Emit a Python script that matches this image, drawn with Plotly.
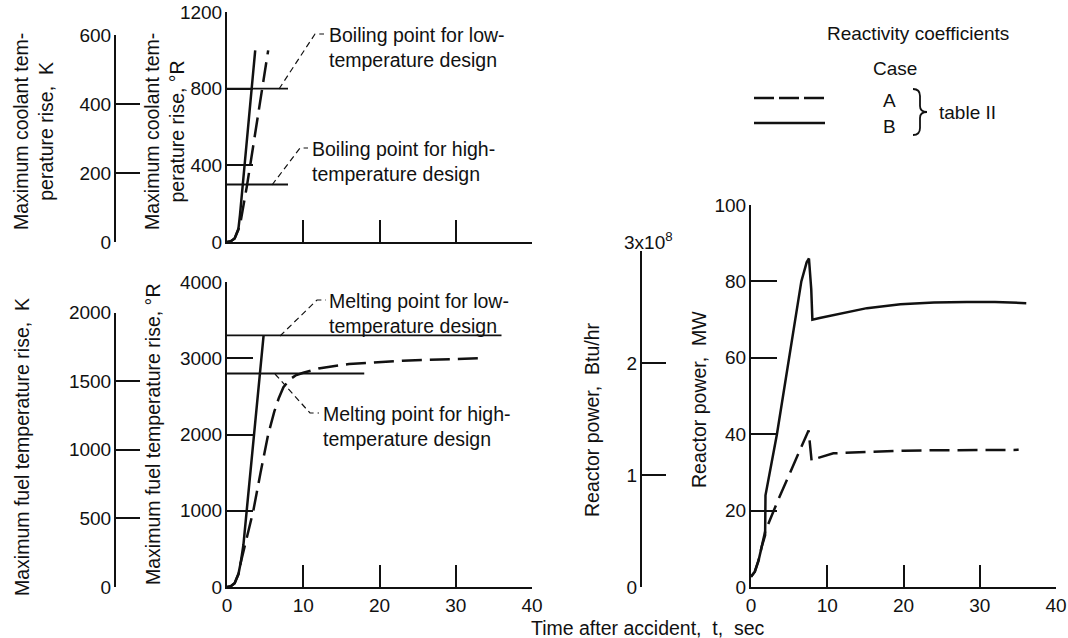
import plotly.graph_objects as go

W, H = 1068, 638

# ---------------- data ----------------
coolant_time_B = [0, 0.5, 1.0, 1.5, 1.7, 3.7]
coolant_rise_B = [0, 4, 18, 70, 140, 1000]
coolant_time_A = [0, 0.5, 1.0, 1.5, 1.8, 2.2, 2.6, 3.0, 4.6, 5.4]
coolant_rise_A = [0, 4, 18, 65, 110, 190, 290, 390, 800, 1000]

boiling_labels = ["Boiling point for low-<br>temperature design",
                  "Boiling point for high-<br>temperature design"]
boiling_points_R = [800, 300]
boiling_line_end = [8, 8]

fuel_time_B = [0, 0.5, 1.0, 1.5, 1.8, 2.15, 4.8]
fuel_rise_B = [0, 10, 50, 170, 320, 550, 3300]
fuel_time_A = [0, 0.5, 1.0, 1.5, 1.8, 2.4, 3.45, 4.4, 5.4, 6.2, 6.8, 7.4, 8.2, 9.0, 10, 12, 16, 23, 33]
fuel_rise_A = [0, 10, 50, 170, 320, 560, 1000, 1500, 2000, 2300, 2480, 2620, 2720, 2775, 2810, 2865, 2925, 2968, 3000]

melting_labels = ["Melting point for low-<br>temperature design",
                  "Melting point for high-<br>temperature design"]
melting_points_R = [3300, 2800]
melting_line_end = [36, 18]

power_time_B = [0, 0.5, 1.0, 1.4, 1.85, 1.9, 3.4, 4.9, 6.6, 7.3, 7.6, 7.9, 8.05, 9, 10.8, 15.2, 19.6, 24, 28.3, 32, 36.1]
power_B = [2.7, 4.0, 7.0, 10.5, 13.5, 24, 40, 59, 80, 85, 86, 78, 70, 70.4, 71.2, 73, 74, 74.5, 74.6, 74.6, 74.3]
power_time_A = [0, 0.5, 1.0, 1.4, 1.85, 3.5, 5.5, 7.3, 7.55, 7.95, 8.3, 10.8, 15.2, 20, 24, 30, 35.1]
power_A = [2.7, 4.0, 7.0, 10.5, 14.5, 22.5, 31.5, 39.5, 41, 33, 33.5, 35, 35.4, 35.7, 35.8, 35.9, 35.9]

time_ticks = [0, 10, 20, 30, 40]
coolant_R_ticks = [0, 400, 800, 1200]
coolant_K_ticks = [0, 200, 400, 600]
fuel_R_ticks = [0, 1000, 2000, 3000, 4000]
fuel_K_ticks = [0, 500, 1000, 1500, 2000]
power_MW_ticks = [0, 20, 40, 60, 80, 100]
power_btu_ticks = [0, 1, 2, 3]
power_btu_text = ["0", "1", "2", " "]

R_PER_K = 1.8
BTUHR_PER_MW = 3.412e6

# ---------------- helpers ----------------
def px(x):
    return x / W

def py(y):
    return 1 - y / H

TXT = "Liberation Sans, Arial, sans-serif"
NUM = "Liberation Sans Narrow, Arial Narrow, Liberation Sans, Arial, sans-serif"
BLACK = "#111"

fig = go.Figure()

SOLID = dict(color=BLACK, width=2.5)
DASH = dict(color=BLACK, width=2.5, dash="20px,8px")

# coolant panel
fig.add_trace(go.Scatter(x=coolant_time_B, y=coolant_rise_B, mode="lines", line=SOLID, xaxis="x", yaxis="y"))
fig.add_trace(go.Scatter(x=coolant_time_A, y=coolant_rise_A, mode="lines", line=DASH, xaxis="x", yaxis="y"))
for v, e in zip(boiling_points_R, boiling_line_end):
    fig.add_trace(go.Scatter(x=[0, e], y=[v, v], mode="lines", line=dict(color=BLACK, width=1.8), xaxis="x", yaxis="y"))

# fuel panel
fig.add_trace(go.Scatter(x=fuel_time_B, y=fuel_rise_B, mode="lines", line=SOLID, xaxis="x2", yaxis="y2"))
fig.add_trace(go.Scatter(x=fuel_time_A, y=fuel_rise_A, mode="lines", line=DASH, xaxis="x2", yaxis="y2"))
for v, e in zip(melting_points_R, melting_line_end):
    fig.add_trace(go.Scatter(x=[0, e], y=[v, v], mode="lines", line=dict(color=BLACK, width=1.8), xaxis="x2", yaxis="y2"))

# power panel
fig.add_trace(go.Scatter(x=power_time_B, y=power_B, mode="lines", line=SOLID, xaxis="x3", yaxis="y3"))
fig.add_trace(go.Scatter(x=power_time_A, y=power_A, mode="lines", line=DASH, xaxis="x3", yaxis="y3"))

# dummy traces so the secondary scales get drawn
for n in (4, 5, 6):
    fig.add_trace(go.Scatter(x=[None], y=[None], xaxis=f"x{n}", yaxis=f"y{n}", hoverinfo="skip"))

# ---------------- axes ----------------
def xax(dom, anchor, labels=True):
    return dict(domain=dom, range=[0, 40], anchor=anchor, showline=True, linewidth=2, linecolor=BLACK,
                ticks="inside", ticklen=22, tickwidth=2, tickcolor=BLACK, tickvals=time_ticks,
                showticklabels=labels, showgrid=False, zeroline=False, automargin=False,
                tickfont=dict(family=NUM, size=19, color=BLACK), ticklabelstandoff=0)

def yax(dom, rng, ticks, anchor, ticklen=26, ticktext=None):
    d = dict(domain=dom, range=rng, anchor=anchor, showline=True, linewidth=2, linecolor=BLACK,
             ticks="inside", ticklen=ticklen, tickwidth=2, tickcolor=BLACK, tickvals=ticks,
             showgrid=False, zeroline=False, automargin=False,
             tickfont=dict(family=NUM, size=19, color=BLACK), ticklabelstandoff=-1)
    if ticktext is not None:
        d["ticktext"] = ticktext
    return d

def hidden_x(dom, anchor):
    return dict(domain=dom, range=[0, 1], anchor=anchor, visible=False, automargin=False)

# pixel geometry of panels
top_y0, top_y1 = 242, 12
fuel_y0, fuel_y1 = 587, 282
pow_y0, pow_y1 = 587, 205

coolK_top = top_y0 - (coolant_K_ticks[-1] * R_PER_K / coolant_R_ticks[-1]) * (top_y0 - top_y1)
fuelK_top = fuel_y0 - (fuel_K_ticks[-1] * R_PER_K / fuel_R_ticks[-1]) * (fuel_y0 - fuel_y1)
btu_top = pow_y0 - (power_btu_ticks[-1] * 1e8 / BTUHR_PER_MW / power_MW_ticks[-1]) * (pow_y0 - pow_y1)

fig.update_layout(
    xaxis=xax([px(227), px(532)], "y", labels=False),
    yaxis=yax([py(top_y0), py(top_y1)], [0, coolant_R_ticks[-1]], coolant_R_ticks, "x"),
    xaxis2=xax([px(227), px(532)], "y2"),
    yaxis2=yax([py(fuel_y0), py(fuel_y1)], [0, fuel_R_ticks[-1]], fuel_R_ticks, "x2"),
    xaxis3=xax([px(751), px(1056)], "y3"),
    yaxis3=yax([py(pow_y0), py(pow_y1)], [0, power_MW_ticks[-1]], power_MW_ticks, "x3"),
    xaxis4=hidden_x([px(116), px(200)], "y4"),
    yaxis4=yax([py(top_y0), py(coolK_top)], [0, coolant_K_ticks[-1]], coolant_K_ticks, "x4", ticklen=24),
    xaxis5=hidden_x([px(116), px(200)], "y5"),
    yaxis5=yax([py(fuel_y0), py(fuelK_top)], [0, fuel_K_ticks[-1]], fuel_K_ticks, "x5", ticklen=24),
    xaxis6=hidden_x([px(642), px(700)], "y6"),
    yaxis6=yax([py(pow_y0), py(btu_top)], [0, power_btu_ticks[-1]], power_btu_ticks, "x6", ticklen=24,
               ticktext=power_btu_text),
)

# ---------------- annotations ----------------
ann = []
shapes = []

def text(x, y, s, size=19.5, xanchor="center", yanchor="middle", angle=0, align="center", family=TXT):
    ann.append(dict(x=px(x), y=py(y), xref="paper", yref="paper", text=s, showarrow=False,
                    xanchor=xanchor, yanchor=yanchor, textangle=angle, align=align,
                    font=dict(family=family, size=size, color=BLACK)))

NB = "\u00a0"
# axis titles
text(34, 132, "Maximum coolant tem-<br>perature rise," + NB + NB + "K", angle=-90)
text(165, 132, "Maximum coolant tem-<br>perature rise, °R", angle=-90)
text(22, 447, "Maximum fuel temperature rise," + NB + NB + "K", angle=-90)
text(153, 435, "Maximum fuel temperature rise, °R", angle=-90)
text(592, 420, "Reactor power," + NB + NB + "Btu/hr", angle=-90)
text(699, 400, "Reactor power," + NB + NB + "MW", angle=-90)
text(648, 628, "Time after accident," + NB + NB + "t," + NB + NB + "sec")
text(648, 241, "3x10<sup>8</sup>", family=NUM, size=19)

def P(x, y):
    return f"{px(x)},{py(y)}"

# callouts
def leader(pts):
    path = "M " + " L ".join(P(x, y) for x, y in pts)
    shapes.append(dict(type="path", path=path, xref="paper", yref="paper",
                       line=dict(color=BLACK, width=1.2, dash="6px,4px")))

leader([(279, 89), (315, 34), (324, 34)])
text(327, 22, boiling_labels[0], xanchor="left", yanchor="top", align="left")
leader([(272, 185), (300, 148), (308, 148)])
text(310, 136, boiling_labels[1], xanchor="left", yanchor="top", align="left")
leader([(280, 336), (317, 300), (326, 300)])
text(327, 288, melting_labels[0], xanchor="left", yanchor="top", align="left")
leader([(275, 374), (310, 413), (319, 413)])
text(321, 401, melting_labels[1], xanchor="left", yanchor="top", align="left")

# legend
text(918, 34, "Reactivity coefficients", size=19)
text(895, 68, "Case", size=19)
shapes.append(dict(type="line", x0=px(754), x1=px(825), y0=py(98), y1=py(98), xref="paper", yref="paper",
                   line=dict(color=BLACK, width=2.5, dash="20px,5px")))
shapes.append(dict(type="line", x0=px(754), x1=px(825), y0=py(123), y1=py(123), xref="paper", yref="paper",
                   line=dict(color=BLACK, width=2.5)))
text(889, 100, "A", size=19)
text(889, 126, "B", size=19)

brace = (f"M {P(913, 89)} Q {P(920, 89)} {P(920, 96)} L {P(920, 106)} "
         f"Q {P(920, 112)} {P(927, 112)} Q {P(920, 112)} {P(920, 118)} "
         f"L {P(920, 128)} Q {P(920, 135)} {P(913, 135)}")
shapes.append(dict(type="path", path=brace, xref="paper", yref="paper", line=dict(color=BLACK, width=1.8)))
text(937, 113, "table II", size=19, xanchor="left")

fig.update_layout(
    width=W, height=H, margin=dict(l=0, r=0, t=0, b=0, autoexpand=False),
    paper_bgcolor="white", plot_bgcolor="white",
    showlegend=False, annotations=ann, shapes=shapes,
    font=dict(family=TXT, color=BLACK),
)

fig.write_html("out.html")
